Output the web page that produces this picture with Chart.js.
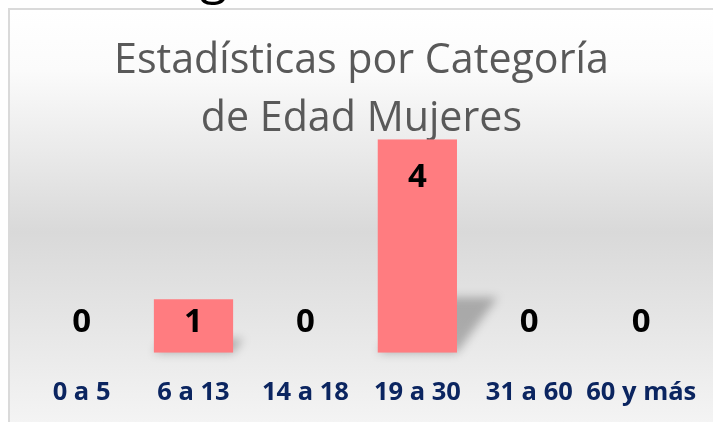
<!DOCTYPE html>
<html>
<head>
<meta charset="utf-8">
<script src="https://cdn.jsdelivr.net/npm/chart.js@4.4.1/dist/chart.umd.min.js"></script>
<style>
  html, body { margin: 0; padding: 0; background: #ffffff; }
  #wrap { position: relative; width: 713px; height: 422px; overflow: hidden; background: #ffffff; }
  #box { position: absolute; left: 8px; top: 8px; width: 740px; height: 440px;
         border-top: 2px solid #dadada; border-left: 2px solid #dadada;
         background: linear-gradient(to bottom, #ffffff 0px, #fbfbfb 60px, #d9d9d9 222px, #f4f4f4 414px); }
  #frag { position: absolute; left: 200px; top: -51px; font-family: "Open Sans", sans-serif;
          font-size: 50px; line-height: 1; color: #000; }
  canvas { position: absolute; left: 0; top: 0; }
</style>
</head>
<body>
<div id="wrap">
  <div id="box"></div>
  <canvas id="c" width="713" height="422"></canvas>
  <div id="frag">g</div>
</div>
<script>
const categories = ['0 a 5', '6 a 13', '14 a 18', '19 a 30', '31 a 60', '60 y más'];
const values = [0, 1, 0, 4, 0, 0];
const titleLines = ['Estadísticas por Categoría', 'de Edad Mujeres'];

const barShadow = {
  id: 'barShadow',
  beforeDatasetsDraw(chart) {
    const ctx = chart.ctx;
    const meta = chart.getDatasetMeta(0);
    ctx.save();
    ctx.filter = 'blur(5px)';
    ctx.fillStyle = 'rgba(0,0,0,0.26)';
    meta.data.forEach(el => {
      const h = el.base - el.y;
      if (h <= 0) return;
      const x0 = el.x - el.width / 2, x1 = el.x + el.width / 2;
      ctx.beginPath();
      ctx.moveTo(x0, el.base);
      ctx.lineTo(x0 + 0.19 * h, el.base - 0.26 * h);
      ctx.lineTo(x1 + 0.19 * h, el.base - 0.26 * h);
      ctx.lineTo(x1, el.base);
      ctx.closePath();
      ctx.fill();
    });
    ctx.restore();
  }
};

const valueLabels = {
  id: 'valueLabels',
  afterDatasetsDraw(chart) {
    const ctx = chart.ctx;
    const meta = chart.getDatasetMeta(0);
    ctx.save();
    ctx.font = 'bold 33px "Open Sans"';
    ctx.fillStyle = '#000000';
    ctx.textAlign = 'center';
    ctx.textBaseline = 'alphabetic';
    meta.data.forEach((el, i) => {
      const y = Math.min(el.base - 21, el.y + 48);
      ctx.fillText(String(values[i]), el.x, y);
    });
    ctx.restore();
  }
};

new Chart(document.getElementById('c'), {
  type: 'bar',
  data: {
    labels: categories,
    datasets: [{
      data: values,
      backgroundColor: '#FF7C80',
      borderWidth: 0,
      barPercentage: 0.708,
      categoryPercentage: 1
    }]
  },
  options: {
    responsive: false,
    animation: false,
    layout: { padding: { left: 25.6, right: 15.8, top: 0, bottom: 9.3 } },
    plugins: {
      legend: { display: false },
      tooltip: { enabled: false },
      title: {
        display: true,
        text: titleLines,
        color: '#595959',
        font: { family: '"Open Sans"', size: 41.2, weight: 'normal', lineHeight: 1.41 },
        padding: { top: 32, bottom: -9 }
      }
    },
    scales: {
      x: {
        grid: { display: false, drawTicks: true, tickLength: 25 },
        border: { display: false },
        ticks: {
          color: '#0B2560',
          font: { family: '"Open Sans"', size: 25.5, weight: 'bold' },
          padding: 0,
          maxRotation: 0,
          autoSkip: false
        },
        afterFit(scale) { scale.height = 60; }
      },
      y: {
        display: false,
        min: 0,
        max: 4
      }
    }
  },
  plugins: [barShadow, valueLabels]
});
</script>
</body>
</html>
